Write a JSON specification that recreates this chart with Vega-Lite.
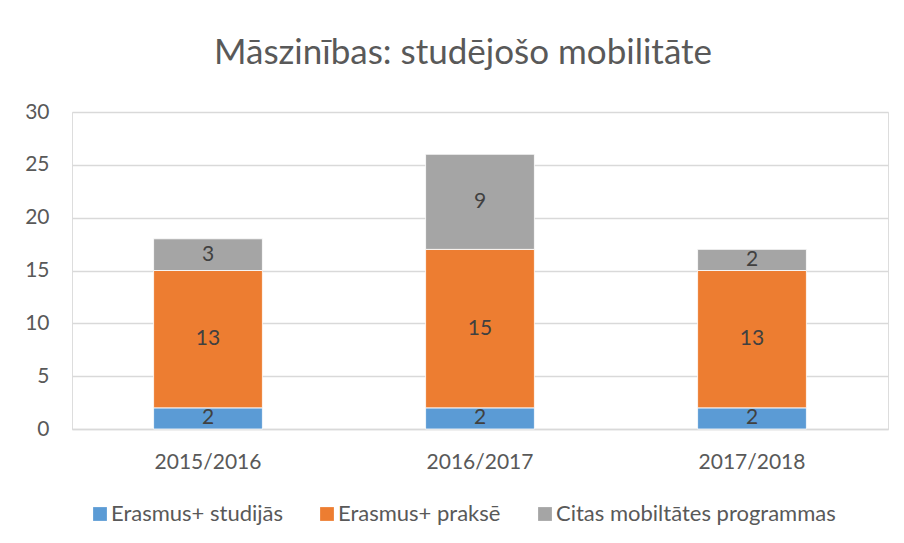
{
  "$schema": "https://vega.github.io/schema/vega-lite/v6.json",
  "autosize": {"type": "none"},
  "width": 816,
  "height": 317,
  "padding": {"left": 72, "top": 112, "right": 16, "bottom": 114},
  "background": "white",
  "title": {"text": "Māszinības: studējošo mobilitāte", "font": "Lato", "fontSize": 35, "fontWeight": "normal", "color": "#595959", "anchor": "middle", "frame": "group", "baseline": "alphabetic", "offset": 2, "dx": -17},
  "data": {"values": [
    {"year": "2015/2016", "series": "Erasmus+ studijās", "value": 2},
    {"year": "2015/2016", "series": "Erasmus+ praksē", "value": 13},
    {"year": "2015/2016", "series": "Citas mobiltātes programmas", "value": 3},
    {"year": "2016/2017", "series": "Erasmus+ studijās", "value": 2},
    {"year": "2016/2017", "series": "Erasmus+ praksē", "value": 15},
    {"year": "2016/2017", "series": "Citas mobiltātes programmas", "value": 9},
    {"year": "2017/2018", "series": "Erasmus+ studijās", "value": 2},
    {"year": "2017/2018", "series": "Erasmus+ praksē", "value": 13},
    {"year": "2017/2018", "series": "Citas mobiltātes programmas", "value": 2}
  ]},
  "transform": [
    {"stack": "value", "groupby": ["year"], "sort": [{"field": "series", "order": "descending"}], "as": ["v0", "v1"]}
  ],
  "encoding": {
    "x": {"field": "year", "type": "nominal", "title": null,
      "scale": {"paddingInner": 0.6, "paddingOuter": 0.3},
      "axis": {"labelAngle": 0, "labelFont": "Lato", "labelFontSize": 21, "labelColor": "#595959", "ticks": false, "domain": true, "domainColor": "#d9d9d9", "domainWidth": 1.3, "labelPadding": 22, "grid": false}}
  },
  "layer": [
    {
      "mark": {"type": "bar", "stroke": "white", "strokeWidth": 0.8},
      "encoding": {
        "y": {"field": "v1", "type": "quantitative", "title": null,
          "scale": {"domain": [0, 30], "nice": false},
          "axis": {"values": [0, 5, 10, 15, 20, 25, 30], "labelFont": "Lato", "labelFontSize": 21, "labelColor": "#595959", "ticks": false, "domain": false, "gridColor": "#d9d9d9", "gridWidth": 1.3, "labelPadding": 23}},
        "y2": {"field": "v0"},
        "color": {"field": "series", "type": "nominal",
          "scale": {"domain": ["Erasmus+ studijās", "Erasmus+ praksē", "Citas mobiltātes programmas"], "range": ["#5B9BD5", "#ED7D31", "#A5A5A5"]},
          "legend": {"orient": "none", "legendX": 17, "legendY": 391, "direction": "horizontal", "title": null, "symbolType": "square", "symbolSize": 190, "symbolStrokeWidth": 0, "labelOffset": 0, "columnPadding": 33, "labelFont": "Lato", "labelFontSize": 22, "labelColor": "#595959", "labelLimit": 400}}
      }
    },
    {
      "transform": [
        {"fold": ["v0", "v1"], "as": ["edge", "pos"]},
        {"aggregate": [{"op": "mean", "field": "pos", "as": "mid"}, {"op": "max", "field": "value", "as": "value"}], "groupby": ["year", "series"]}
      ],
      "mark": {"type": "text", "font": "Lato", "fontSize": 21, "color": "#404040", "baseline": "middle"},
      "encoding": {
        "y": {"field": "mid", "type": "quantitative"},
        "text": {"field": "value", "type": "quantitative"}
      }
    }
  ]
}
